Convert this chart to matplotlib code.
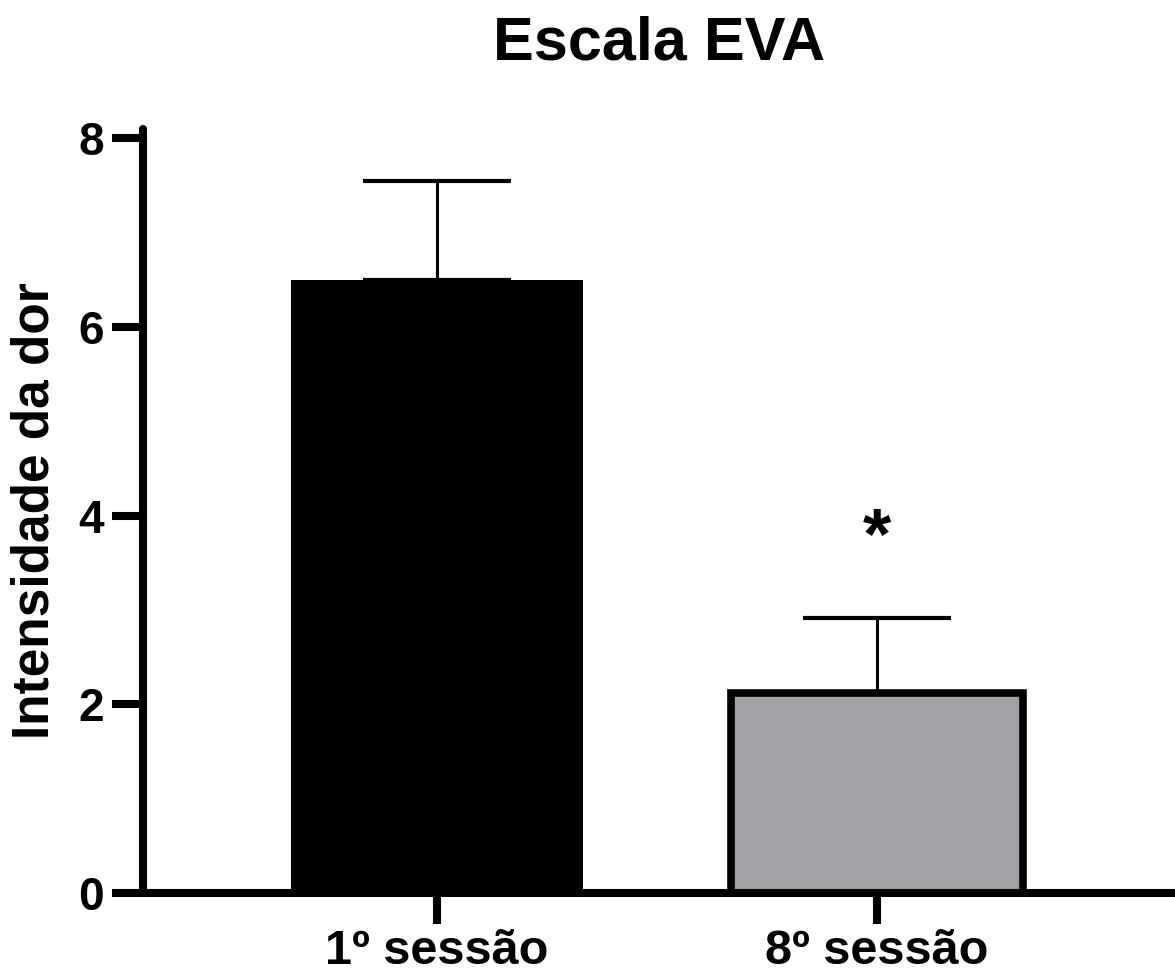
import matplotlib
matplotlib.use("Agg")
import matplotlib.pyplot as plt

plt.rcParams['font.family'] = ['Liberation Sans', 'DejaVu Sans']
plt.rcParams['font.weight'] = 'bold'

sessoes = ["1º sessão", "8º sessão"]
medias = [6.5, 2.12]
erros = [1.05, 0.8]
cores = ["#000000", "#a2a1a6"]

fig = plt.figure(figsize=(11.75, 9.77), dpi=100)
ax = fig.add_axes([0.1217, 0.086, 0.8783, 0.782])

x = [0, 1]
ax.bar(x, medias, width=0.663, color=cores, edgecolor="black",
       linewidth=[0, 5.5], zorder=2)
ax.errorbar(x, medias, yerr=[[0, 0], erros], fmt="none", ecolor="black",
            elinewidth=2.2, capsize=53, capthick=3, zorder=1)

ax.text(1, 3.75, "*", ha="center", va="center", fontsize=52, fontweight="bold")

ax.set_xlim(-0.668, 1.677)
ax.set_ylim(0, 8.1)
ax.set_yticks([0, 2, 4, 6, 8])
ax.set_xticks(x)
ax.set_xticklabels(sessoes)

for s in ["top", "right"]:
    ax.spines[s].set_visible(False)
for s in ["left", "bottom"]:
    ax.spines[s].set_linewidth(5.8)
    ax.spines[s].set_capstyle("round")

ax.tick_params(axis="both", width=5.8, length=22, labelsize=33, pad=6)
ax.tick_params(axis="x", labelsize=35, pad=4)

ax.set_ylabel("Intensidade da dor", fontsize=37, fontweight="bold", labelpad=14)
ax.set_title("Escala EVA", fontsize=44, fontweight="bold", pad=50)

fig.savefig("out.png", dpi=100)
